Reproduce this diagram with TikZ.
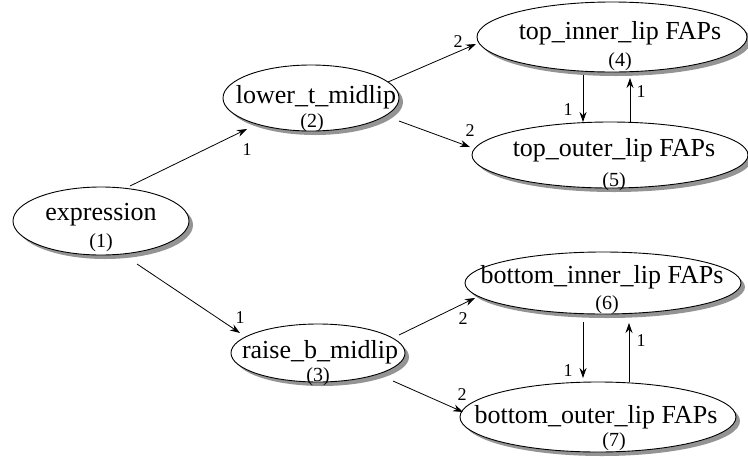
\documentclass[tikz,border=0pt]{standalone}
\usepackage{fontspec}
\setmainfont{Liberation Serif}
\usetikzlibrary{shapes.geometric,shadows,arrows.meta,calc}
\begin{document}
\begin{tikzpicture}[x=1pt,y=-1pt,
  ell/.style={ellipse, draw=black, line width=0.9pt, fill=white, inner sep=0pt,
    drop shadow={shadow xshift=4pt, shadow yshift=-4pt, fill=black!42, opacity=1}},
  maintext/.style={inner sep=0pt, font=\fontsize{26}{26}\selectfont},
  numtext/.style={inner sep=0pt, font=\fontsize{20}{20}\selectfont},
  elab/.style={inner sep=0pt, font=\fontsize{18}{18}\selectfont},
  arr/.style={line width=0.8pt, -{Stealth[length=10pt,width=7pt]}}
]
\useasboundingbox (0,0) rectangle (748,456);

% ellipses
\node[ell, minimum width=176pt, minimum height=68pt] (expr) at (101,221) {};
\node[ell, minimum width=176pt, minimum height=66pt] (lt) at (311,98) {};
\node[ell, minimum width=174pt, minimum height=58pt] (rb) at (318,353) {};
\node[ell, minimum width=270pt, minimum height=70pt] (ti) at (612,37) {};
\node[ell, minimum width=276pt, minimum height=66pt] (to) at (610,155) {};
\node[ell, minimum width=276pt, minimum height=62pt] (bi) at (603,283) {};
\node[ell, minimum width=276pt, minimum height=70pt] (bo) at (598,417) {};

% texts
\node[maintext] (exprT) at (101,215) {expression};
\node[numtext] (exprN) at (101,243) {(1)};
\node[maintext] (ltT) at (316,97) {lower\_t\_midlip};
\node[numtext] (ltN) at (312,123) {(2)};
\node[maintext] (rbT) at (320,352) {raise\_b\_midlip};
\node[numtext] (rbN) at (318,377) {(3)};
\node[maintext] (tiT) at (620,33) {top\_inner\_lip FAPs};
\node[numtext] (tiN) at (620,62) {(4)};
\node[maintext] (toT) at (614,150) {top\_outer\_lip FAPs};
\node[numtext] (toN) at (614,182) {(5)};
\node[maintext] (biT) at (602,277) {bottom\_inner\_lip FAPs};
\node[numtext] (biN) at (607,305) {(6)};
\node[maintext] (boT) at (596,417) {bottom\_outer\_lip FAPs};
\node[numtext] (boN) at (614,442) {(7)};

% connectors
\draw[arr] ($(expr)+(29,-35)$) -- ($(lt)+(-64,31)$);
\draw[arr] ($(expr)+(36,43)$) -- ($(rb)+(-78,-20)$);
\draw[arr] ($(lt)+(77,-16)$) -- ($(ti)+(-136,7)$);
\draw[arr] ($(lt)+(88,23)$) -- ($(to)+(-140,-8)$);
\draw[arr] ($(ti)+(-29,38)$) -- ($(to)+(-27,-33)$);
\draw[arr] ($(to)+(20,-33)$) -- ($(ti)+(18,41)$);
\draw[arr] ($(rb)+(81,-18)$) -- ($(bi)+(-128,15)$);
\draw[arr] ($(rb)+(75,28)$) -- ($(bo)+(-135,-5)$);
\draw[arr] ($(bi)+(-20,39)$) -- ($(bo)+(-15,-39)$);
\draw[arr] ($(bo)+(31,-35)$) -- ($(bi)+(26,40)$);

% edge labels
\node[elab] (l1) at (247,150) {1};
\node[elab] (l2) at (240,318) {1};
\node[elab] (l3) at (458,42) {2};
\node[elab] (l4) at (470,131) {2};
\node[elab] (l5) at (568,110) {1};
\node[elab] (l6) at (641,92) {1};
\node[elab] (l7) at (463,319) {2};
\node[elab] (l8) at (462,395) {2};
\node[elab] (l9) at (568,371) {1};
\node[elab] (l10) at (641,341) {1};
\end{tikzpicture}
\end{document}
